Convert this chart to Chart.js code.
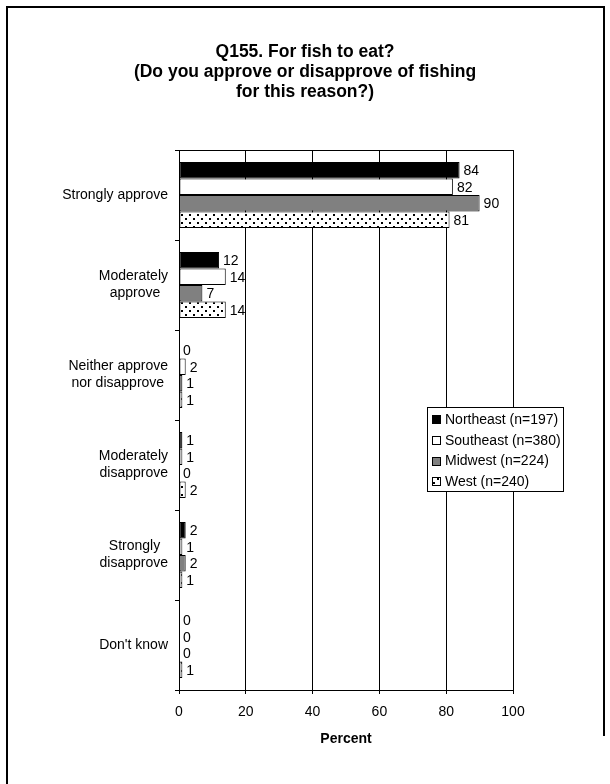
<!DOCTYPE html>
<html><head><meta charset="utf-8">
<script src="https://cdn.jsdelivr.net/npm/chart.js@4.4.1/dist/chart.umd.min.js"></script>
<style>
html,body{margin:0;padding:0;background:#fff;}
#wrap{position:relative;width:610px;height:784px;overflow:hidden;background:#fff;}
#c{position:absolute;left:0;top:0;}
.fr{position:absolute;background:#000;}
</style></head><body>
<div id="wrap">
<canvas id="c" width="610" height="784"></canvas>
<div class="fr" style="left:6px;top:6px;width:2px;height:778px"></div>
<div class="fr" style="left:6px;top:6px;width:599px;height:2px"></div>
<div class="fr" style="left:603px;top:6px;width:2px;height:730px"></div>
</div>
<script>
const categories = [['Strongly approve'], ['Moderately', 'approve'], ['Neither approve', 'nor disapprove'], ['Moderately', 'disapprove'], ['Strongly', 'disapprove'], ["Don't know"]];
const seriesNames = ['Northeast (n=197)', 'Southeast (n=380)', 'Midwest (n=224)', 'West (n=240)'];
const northeast = [84, 12, 0, 1, 2, 0];
const southeast = [82, 14, 2, 1, 1, 0];
const midwest = [90, 7, 1, 0, 2, 0];
const west = [81, 14, 1, 2, 1, 1];
const xTicks = [0, 20, 40, 60, 80, 100];
const titleLines = ['Q155. For fish to eat?', '(Do you approve or disapprove of fishing', 'for this reason?)'];
const axisTitle = 'Percent';

const FONT = 'Arial, "Liberation Sans", sans-serif';

function dotPattern() {
  const p = document.createElement('canvas');
  p.width = 8; p.height = 8;
  const g = p.getContext('2d');
  g.fillStyle = '#fff'; g.fillRect(0, 0, 8, 8);
  g.fillStyle = '#000';
  g.fillRect(1, 2, 2, 2);
  g.fillRect(5, 6, 2, 2);
  return document.getElementById('c').getContext('2d').createPattern(p, 'repeat');
}
const pat = dotPattern();
const fills = ['#000000', '#ffffff', '#808080', pat];
const seriesData = [northeast, southeast, midwest, west];

// center the lines of a multi-line label inside its right-aligned block
const mctx = document.createElement('canvas').getContext('2d');
mctx.font = '14px ' + FONT;
const NB = '\u00a0';
const nbW = mctx.measureText(NB).width;
function centeredLines(lines) {
  if (!Array.isArray(lines) || lines.length < 2) return lines;
  const ws = lines.map(l => mctx.measureText(l).width);
  const mx = Math.max(...ws);
  return lines.map((l, i) => {
    const n = Math.round((mx - ws[i]) / 2 / nbW);
    return l + NB.repeat(n);
  });
}

const extras = {
  id: 'extras',
  afterDatasetsDraw(chart) {
    const ctx = chart.ctx;
    const ca = chart.chartArea;
    ctx.save();
    ctx.strokeStyle = '#000'; ctx.lineWidth = 1;
    ctx.beginPath(); ctx.moveTo(ca.left - 4, Math.round(ca.top) + 0.5); ctx.lineTo(ca.right, Math.round(ca.top) + 0.5); ctx.stroke();
    ctx.font = '14px ' + FONT;
    ctx.fillStyle = '#000';
    ctx.textAlign = 'left';
    ctx.textBaseline = 'middle';
    chart.data.datasets.forEach((ds, i) => {
      const meta = chart.getDatasetMeta(i);
      meta.data.forEach((el, j) => {
        ctx.fillText(String(ds.data[j]), el.x + 4, el.y + 1);
      });
    });
    const lx = 427, ly = 407, lw = 136, lh = 84;
    ctx.fillStyle = '#fff';
    ctx.fillRect(lx, ly, lw, lh);
    ctx.strokeStyle = '#000';
    ctx.strokeRect(lx + 0.5, ly + 0.5, lw, lh);
    chart.data.datasets.forEach((ds, i) => {
      const cy = ly + 12 + i * 20.8;
      ctx.fillStyle = ds.backgroundColor;
      ctx.fillRect(432, Math.round(cy - 4), 8, 8);
      ctx.strokeStyle = '#000';
      ctx.strokeRect(432.5, Math.round(cy - 4) + 0.5, 8, 8);
      ctx.fillStyle = '#000';
      ctx.font = '14px ' + FONT;
      ctx.fillText(ds.label, 445, cy + 1);
    });
    ctx.restore();
  }
};

new Chart(document.getElementById('c'), {
  type: 'bar',
  data: {
    labels: categories,
    datasets: seriesNames.map((n, i) => ({
      label: n,
      data: seriesData[i],
      backgroundColor: fills[i],
      borderColor: '#000',
      borderWidth: 1,
      borderSkipped: false,
      categoryPercentage: 0.733,
      barPercentage: 1.0
    }))
  },
  options: {
    indexAxis: 'y',
    responsive: false,
    animation: false,
    devicePixelRatio: 1,
    layout: { padding: 0 },
    plugins: {
      legend: { display: false },
      tooltip: { enabled: false },
      title: {
        display: true,
        text: titleLines,
        color: '#000',
        font: { family: FONT, size: 17.5, weight: 'bold', lineHeight: '20px' },
        padding: { top: 42, bottom: 48 }
      }
    },
    scales: {
      x: {
        type: 'linear',
        min: 0, max: 100,
        afterBuildTicks(s) { s.ticks = xTicks.map(v => ({ value: v })); },
        grid: { color: '#000', lineWidth: 1, tickLength: 4, drawTicks: true },
        border: { color: '#000', width: 1 },
        ticks: { color: '#000', font: { family: FONT, size: 14 }, padding: 10, maxRotation: 0 },
        title: { display: true, text: axisTitle, color: '#000', font: { family: FONT, size: 14, weight: 'bold' }, padding: { top: 0, bottom: 36 } },
        afterFit(s) { s.height = 94; }
      },
      y: {
        type: 'category',
        grid: { display: true, drawOnChartArea: false, tickLength: 4, color: '#000', offset: true },
        border: { color: '#000', width: 1 },
        ticks: {
          color: '#000', font: { family: FONT, size: 14, lineHeight: 1.2 }, padding: 7, crossAlign: 'near',
          callback(v, i) { return centeredLines(categories[i]); }
        },
        afterFit(s) { s.width = 179; }
      },
      y2: {
        type: 'linear',
        position: 'right',
        display: true,
        grid: { display: false },
        border: { display: false },
        ticks: { display: false },
        afterFit(s) { s.width = 97; }
      }
    }
  },
  plugins: [extras]
});
</script>
</body></html>
